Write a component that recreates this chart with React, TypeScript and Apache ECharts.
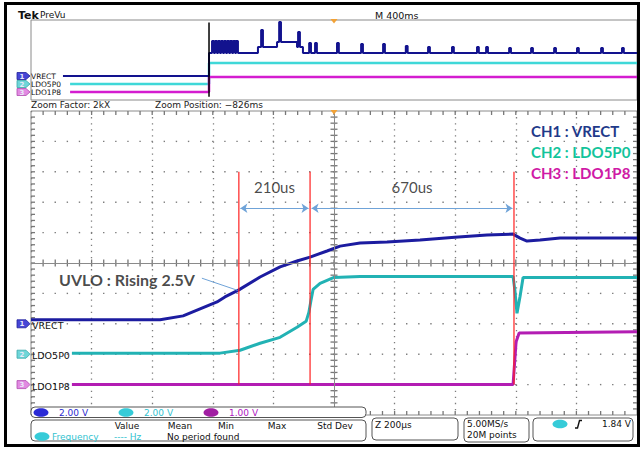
import React, { useEffect, useRef } from "react";
import * as echarts from "echarts";

// ---------- channels ----------
const CHANNELS = ["VRECT", "LDO5P0", "LDO1P8"];
const CH_NUM = ["1", "2", "3"];
const CH_VOLTS_PER_DIV = [2, 2, 1];
const CH_OFFSET_DIV = [-2, -3, -4];
const CH_TRACE_COLORS = ["#1c1ca0", "#22b2b4", "#b31db3"];
const CH_PREVIEW_COLORS = ["#12128e", "#3fd8d8", "#d41dd0"];
const CH_FLAG_FILL = ["#4646d6", "#6fd6d8", "#e28ae2"];
const CH_FLAG_STROKE = ["#22229a", "#3aa8aa", "#b04cb0"];
const LEGEND_TEXT = ["CH1 : VRECT", "CH2 : LDO5P0", "CH3 : LDO1P8"];
const LEGEND_COLORS = ["#1f3a8a", "#12c49b", "#d01aa6"];

// ---------- zoom window (time in µs, voltage in V) ----------
const VRECT_T = [-1000, -574, -498, -442, -386, -360, -314, -244, -178, -122, -79, -23, 20, 86, 175, 284, 399, 505, 591, 614, 637, 680, 746, 1000];
const VRECT_V = [0.26, 0.26, 0.52, 0.98, 1.44, 1.77, 2.23, 3.08, 3.74, 4.13, 4.39, 4.79, 5.11, 5.31, 5.38, 5.51, 5.7, 5.84, 5.9, 5.64, 5.44, 5.51, 5.64, 5.64];
const LDO5P0_T = [-865, -376, -310, -244, -178, -122, -92, -83, -76, -69, -46, 0, 86, 591, 597, 604, 614, 624, 1000];
const LDO5P0_V = [0.07, 0.07, 0.26, 0.72, 1.11, 1.77, 2.16, 2.75, 3.54, 4.26, 4.66, 5.05, 5.11, 5.11, 4.2, 2.69, 3.8, 5.05, 5.05];
const LDO1P8_T = [-865, 591, 594, 601, 611, 1000];
const LDO1P8_V = [0, 0, 0.43, 1.41, 1.7, 1.74];

// cursors & measurements
const CURSOR_US = [-314, -79, 594];
const CURSOR_TOP_DIV = 3;
const CURSOR_BOTTOM_DIV = -4;
const MEASURE_TEXT = ["210us", "670us"];
const ARROW_Y_DIV = 1.8;
const MEASURE_LABEL_Y_DIV = 2.5;
const UVLO_TEXT = "UVLO : Rising 2.5V";
const UVLO_TEXT_POS = [-459, -0.53];
const UVLO_LEADER = [[-436, -0.5], [-318, -0.9]];

// ---------- preview window (time in ms, voltage in V) ----------
const PV_ZOOM_POS_MS = -825;
const PV_START_MS = [-1789, -1742, -1742];
const PV_VRECT_LEVEL_T = [-1789, -825, -502, -376, -244, -205, 2000];
const PV_VRECT_LEVEL_V = [0, 5.75, 7.25, 8.5, 7.25, 5.75];
const PV_VRECT_PULSE_T = [-799, -779, -759, -739, -719, -699, -679, -659, -640, -475, -356, -231, -158, -119, 26, 185, 330, 480, 627, 785, 950, 1010, 1162, 1307, 1459, 1610, 1769, 1907];
const PV_VRECT_PULSE_V = [8.75, 8.75, 8.75, 8.75, 8.75, 8.75, 8.75, 8.75, 8.75, 11.5, 13.5, 11, 8.25, 8.25, 8.25, 8, 8, 7.5, 7.25, 7.25, 7.25, 7.25, 7, 7, 7, 7, 7, 7];
const PV_AFTER_V = [0, 5.25, 1.875];

// ---------- graticule ----------
const X_MIN = -1000, X_MAX = 1000, X_DIV = 200;
const Y_MIN = -5, Y_MAX = 5, Y_DIV = 1;
const SUBDIV = 5;

// ---------- layout ----------
const MAIN = { left: 31, top: 111, width: 606, height: 304 };
const PREV = { left: 31, top: 20, width: 606, height: 80 };
const GRAT = "#8a8a8a";
const TICKC = "#777777";
const DOTS = "#7c7c7c";
const TEK_FONT = "DejaVu Sans";
const ANN_FONT = "Lato";

function toDiv(ch: number, v: number) {
  return CH_OFFSET_DIV[ch] + v / CH_VOLTS_PER_DIV[ch];
}

function buildPreviewVrect() {
  const pts: number[][] = [];
  const W = 6;
  for (let i = 0; i < PV_VRECT_LEVEL_V.length; i++) {
    const t0 = PV_VRECT_LEVEL_T[i];
    const t1 = PV_VRECT_LEVEL_T[i + 1];
    const v = PV_VRECT_LEVEL_V[i];
    pts.push([t0, v]);
    PV_VRECT_PULSE_T.forEach((pt, k) => {
      if (pt > t0 && pt < t1) {
        const h = PV_VRECT_PULSE_V[k];
        pts.push([pt - W, v], [pt - W, h], [pt + W, h], [pt + W, v]);
      }
    });
    pts.push([t1, v]);
  }
  return pts.map((p) => [p[0], toDiv(0, p[1])]);
}

function subSteps(min: number, max: number, step: number) {
  const out: number[] = [];
  const n = Math.round((max - min) / step);
  for (let i = 1; i < n; i++) out.push(min + i * step);
  return out;
}

function markSeries(name: string, data: number[][], size: number[], offset: number[], color: string) {
  return {
    type: "scatter", name, xAxisIndex: 0, yAxisIndex: 0, silent: true, z: 2,
    symbol: "rect", symbolSize: size, symbolOffset: offset,
    itemStyle: { color, opacity: 1 }, data, clip: false,
  };
}

function txt(x: number, y: number, text: string, size: number, fill = "#111", opts: any = {}) {
  return {
    type: "text", x, y, z: 60,
    style: {
      text, fill, fontSize: size, fontFamily: opts.family || TEK_FONT,
      fontWeight: opts.weight || "normal",
      align: opts.align || "left", verticalAlign: "middle",
    },
  };
}

function flag(x: number, y: number, ch: number, h: number) {
  return [
    {
      type: "polygon", z: 60,
      shape: { points: [[x, y - h / 2], [x + 9, y - h / 2], [x + 13, y], [x + 9, y + h / 2], [x, y + h / 2]] },
      style: { fill: CH_FLAG_FILL[ch], stroke: CH_FLAG_STROKE[ch], lineWidth: 0.8 },
    },
    txt(x + 5, y + 0.5, CH_NUM[ch], 7, "#e8e8f8", { align: "center", weight: "bold" }),
  ];
}

function badge(cx: number, cy: number, num: string, fill: string) {
  return [
    { type: "ellipse", z: 61, shape: { cx, cy, rx: 7.5, ry: 4.3 }, style: { fill } },
    txt(cx, cy + 0.5, num, 8, "#ffffff", { align: "center", weight: "bold" }),
  ];
}

function box(x: number, y: number, w: number, h: number) {
  return { type: "rect", z: 55, shape: { x, y, width: w, height: h, r: 4 }, style: { fill: "#fff", stroke: "#555", lineWidth: 1 } };
}

function buildOption() {
  const divPx = MAIN.height / 10;
  const centerY = MAIN.top + MAIN.height / 2;
  const prevDivPx = PREV.height / 10;
  const prevCenterY = PREV.top + PREV.height / 2;
  const trigX = MAIN.left + MAIN.width / 2;

  const series: any[] = [];

  // graticule: ticks (center cross + edges) and dotted rows, every 1/5 division
  const xs = subSteps(X_MIN, X_MAX, X_DIV / SUBDIV);
  const ys = subSteps(Y_MIN, Y_MAX, Y_DIV / SUBDIV);
  const rows = subSteps(Y_MIN, Y_MAX, Y_DIV).filter((y) => y !== 0);
  const dotData: number[][] = [];
  rows.forEach((y) => xs.forEach((x) => dotData.push([x, y])));
  series.push(markSeries("grid-dots", dotData, [1.4, 1.4], [0, 0], DOTS));
  series.push(markSeries("ticks-cx", xs.map((x) => [x, 0]), [1.3, 7], [0, 0], TICKC));
  series.push(markSeries("ticks-cy", ys.map((y) => [0, y]), [7, 1.3], [0, 0], TICKC));
  series.push(markSeries("ticks-top", xs.map((x) => [x, Y_MAX]), [1.3, 4], [0, 2], TICKC));
  series.push(markSeries("ticks-bottom", xs.map((x) => [x, Y_MIN]), [1.3, 4], [0, -2], TICKC));
  series.push(markSeries("ticks-left", ys.map((y) => [X_MIN, y]), [4, 1.3], [2, 0], TICKC));
  series.push(markSeries("ticks-right", ys.map((y) => [X_MAX, y]), [4, 1.3], [-2, 0], TICKC));

  // center lines
  series.push({
    type: "line", name: "graticule", xAxisIndex: 0, yAxisIndex: 0, data: [], silent: true, z: 1,
    markLine: {
      silent: true, animation: false, symbol: ["none", "none"], label: { show: false },
      data: [
        { yAxis: 0, lineStyle: { color: GRAT, width: 1, type: "solid" } },
        { xAxis: 0, lineStyle: { color: GRAT, width: 1, type: "solid" } },
      ],
    },
  });

  const traces = [[VRECT_T, VRECT_V], [LDO5P0_T, LDO5P0_V], [LDO1P8_T, LDO1P8_V]];
  traces.forEach(([T, V], ch) => {
    series.push({
      type: "line", name: CHANNELS[ch], xAxisIndex: 0, yAxisIndex: 0,
      data: T.map((t, k) => [t, toDiv(ch, V[k])]),
      symbol: "none", lineStyle: { color: CH_TRACE_COLORS[ch], width: 3 }, z: 3, silent: true,
    });
  });

  series.push({
    type: "line", name: "VRECT preview", xAxisIndex: 1, yAxisIndex: 1,
    data: buildPreviewVrect(), symbol: "none",
    lineStyle: { color: CH_PREVIEW_COLORS[0], width: 2 }, z: 3, silent: true,
  });
  [1, 2].forEach((ch) => {
    series.push({
      type: "line", name: CHANNELS[ch] + " preview", xAxisIndex: 1, yAxisIndex: 1,
      data: [
        [PV_START_MS[ch], toDiv(ch, 0)], [PV_ZOOM_POS_MS, toDiv(ch, 0)],
        [PV_ZOOM_POS_MS, toDiv(ch, PV_AFTER_V[ch])], [2000, toDiv(ch, PV_AFTER_V[ch])],
      ],
      symbol: "none", lineStyle: { color: CH_PREVIEW_COLORS[ch], width: 2.5 }, z: 2, silent: true,
    });
  });
  series.push({
    type: "line", name: "zoom position", xAxisIndex: 1, yAxisIndex: 1,
    data: [[PV_ZOOM_POS_MS, 4.7], [PV_ZOOM_POS_MS, -4.6]], symbol: "none",
    lineStyle: { color: "#000", width: 1.5 }, z: 4, silent: true,
  });

  CURSOR_US.forEach((c, i) => {
    const s: any = {
      type: "line", name: "cursor " + (i + 1), xAxisIndex: 0, yAxisIndex: 0,
      data: [[c, CURSOR_TOP_DIV], [c, CURSOR_BOTTOM_DIV]], symbol: "none",
      lineStyle: { color: "#ff1f1f", width: 1.2 }, z: 6, silent: true,
    };
    if (i === 0) {
      const gap = 5;
      s.markLine = {
        silent: true, animation: false, symbol: ["arrow", "arrow"], symbolSize: 7,
        label: { show: false },
        lineStyle: { color: "#6fa3d8", width: 1.2, type: "solid" },
        data: [
          [{ coord: [CURSOR_US[0] + gap, ARROW_Y_DIV] }, { coord: [CURSOR_US[1] - gap, ARROW_Y_DIV] }],
          [{ coord: [CURSOR_US[1] + gap, ARROW_Y_DIV] }, { coord: [CURSOR_US[2] - gap, ARROW_Y_DIV] }],
          [
            { coord: UVLO_LEADER[0], symbol: "none" },
            { coord: UVLO_LEADER[1], symbol: "none", lineStyle: { width: 1, color: "#6fa3d8" } },
          ],
        ],
      };
    }
    series.push(s);
  });

  series.push({
    type: "scatter", name: "annotations", xAxisIndex: 0, yAxisIndex: 0, symbolSize: 0, z: 7, silent: true,
    data: [
      {
        value: [(CURSOR_US[0] + CURSOR_US[1]) / 2, MEASURE_LABEL_Y_DIV],
        label: { show: true, position: "inside", formatter: MEASURE_TEXT[0], fontFamily: ANN_FONT, fontSize: 15, color: "#1a1a1a" },
      },
      {
        value: [(CURSOR_US[1] + CURSOR_US[2]) / 2, MEASURE_LABEL_Y_DIV],
        label: { show: true, position: "inside", formatter: MEASURE_TEXT[1], fontFamily: ANN_FONT, fontSize: 15, color: "#1a1a1a" },
      },
      {
        value: UVLO_TEXT_POS,
        label: { show: true, position: "left", distance: 0, formatter: UVLO_TEXT, fontFamily: ANN_FONT, fontWeight: "bold", fontSize: 16, color: "#1a1a1a" },
      },
    ],
  });

  const g: any[] = [];
  g.push(txt(18, 15, "Tek", 11, "#111", { weight: "bold" }));
  g.push(txt(40, 15, "PreVu", 9, "#111"));
  g.push(txt(375, 15, "M 400ms", 9.5, "#111"));
  g.push({ type: "polygon", z: 62, shape: { points: [[trigX - 3.5, PREV.top - 1], [trigX + 3.5, PREV.top - 1], [trigX, PREV.top + 3.5]] }, style: { fill: "#f2a236" } });
  g.push({ type: "polygon", z: 62, shape: { points: [[trigX - 3.5, MAIN.top - 1], [trigX + 3.5, MAIN.top - 1], [trigX, MAIN.top + 3.5]] }, style: { fill: "#f2a236" } });

  CHANNELS.forEach((name, ch) => {
    const py = prevCenterY - CH_OFFSET_DIV[ch] * prevDivPx;
    g.push(...flag(17, py, ch, 7));
    g.push(txt(31, py + 0.5, name, 7.5, "#111"));
    const my = centerY - CH_OFFSET_DIV[ch] * divPx;
    g.push(...flag(17, my, ch, 8));
    g.push(txt(32, my + 1.5, name, 9.5, "#111"));
  });

  g.push(txt(31, 105, "Zoom Factor: 2kX", 9, "#222"));
  g.push(txt(155, 105, "Zoom Position: −826ms", 9, "#222"));

  LEGEND_TEXT.forEach((t, i) => {
    g.push(txt(531, 131 + i * 21, t, 15, LEGEND_COLORS[i], { family: ANN_FONT, weight: "bold" }));
  });

  g.push(box(31, 407, 335, 10.5));
  g.push(...badge(41, 412.5, "1", "#2b2bd6"));
  g.push(txt(59, 412.5, "2.00 V", 9, "#2d2dd0"));
  g.push(...badge(126, 412.5, "2", "#36cbd8"));
  g.push(txt(144, 412.5, "2.00 V", 9, "#33c3d0"));
  g.push(...badge(211, 412.5, "3", "#a11fa3"));
  g.push(txt(229, 412.5, "1.00 V", 9, "#b020c2"));

  g.push(box(31, 420, 335, 21));
  g.push(txt(127, 426, "Value", 9, "#111", { align: "center" }));
  g.push(txt(180, 426, "Mean", 9, "#111", { align: "center" }));
  g.push(txt(226, 426, "Min", 9, "#111", { align: "center" }));
  g.push(txt(277, 426, "Max", 9, "#111", { align: "center" }));
  g.push(txt(335, 426, "Std Dev", 9, "#111", { align: "center" }));
  g.push(...badge(42, 436.5, "2", "#36cbd8"));
  g.push(txt(52, 436.5, "Frequency", 9, "#33c3d0"));
  g.push(txt(114, 436.5, "---- Hz", 9, "#33c3d0"));
  g.push(txt(167, 436.5, "No period found", 9, "#111"));

  g.push(box(372, 418, 86, 22));
  g.push(txt(375, 424.5, "Z 200µs", 9, "#111"));
  g.push(box(464, 418, 65, 24));
  g.push(txt(467, 424, "5.00MS/s", 9, "#111"));
  g.push(txt(467, 434.5, "20M points", 9, "#111"));
  g.push(box(533, 418, 100, 23));
  g.push(...badge(560, 424, "2", "#36cbd8"));
  g.push({ type: "polyline", z: 62, shape: { points: [[575, 428], [577.5, 428], [579.5, 420.5], [582, 420.5]] }, style: { stroke: "#111", lineWidth: 1.4, fill: "none" } });
  g.push(txt(631, 424, "1.84 V", 9, "#111", { align: "right" }));

  g.push({ type: "rect", z: 100, shape: { x: 5.5, y: 3.5, width: 633, height: 442 }, style: { fill: "none", stroke: "#000", lineWidth: 3 } });

  return {
    animation: false,
    backgroundColor: "#ffffff",
    grid: [
      { ...MAIN, show: true, borderColor: GRAT, borderWidth: 1, backgroundColor: "transparent" },
      { ...PREV, show: true, borderColor: GRAT, borderWidth: 1, backgroundColor: "#fff" },
    ],
    xAxis: [
      {
        gridIndex: 0, type: "value", min: X_MIN, max: X_MAX, interval: X_DIV,
        axisLine: { show: false }, axisTick: { show: false }, axisLabel: { show: false },
        splitLine: { show: true, lineStyle: { color: DOTS, width: 1.3, type: [1.3, 4.78] } },
      },
      { gridIndex: 1, type: "value", min: -2000, max: 2000, interval: 400, show: false },
    ],
    yAxis: [
      {
        gridIndex: 0, type: "value", min: Y_MIN, max: Y_MAX, interval: Y_DIV,
        axisLine: { show: false }, axisTick: { show: false }, axisLabel: { show: false },
        splitLine: { show: false },
      },
      { gridIndex: 1, type: "value", min: -5, max: 5, interval: 1, show: false },
    ],
    series,
    graphic: { elements: g },
  };
}

export default function App() {
  const ref = useRef<HTMLDivElement>(null);
  useEffect(() => {
    const chart = echarts.init(ref.current as HTMLDivElement, null, { renderer: "svg" });
    chart.setOption(buildOption() as any);
    return () => chart.dispose();
  }, []);
  return (
    <div
      ref={ref}
      style={{ position: "absolute", left: 0, top: 0, width: 642, height: 449, background: "#fff" }}
    />
  );
}
